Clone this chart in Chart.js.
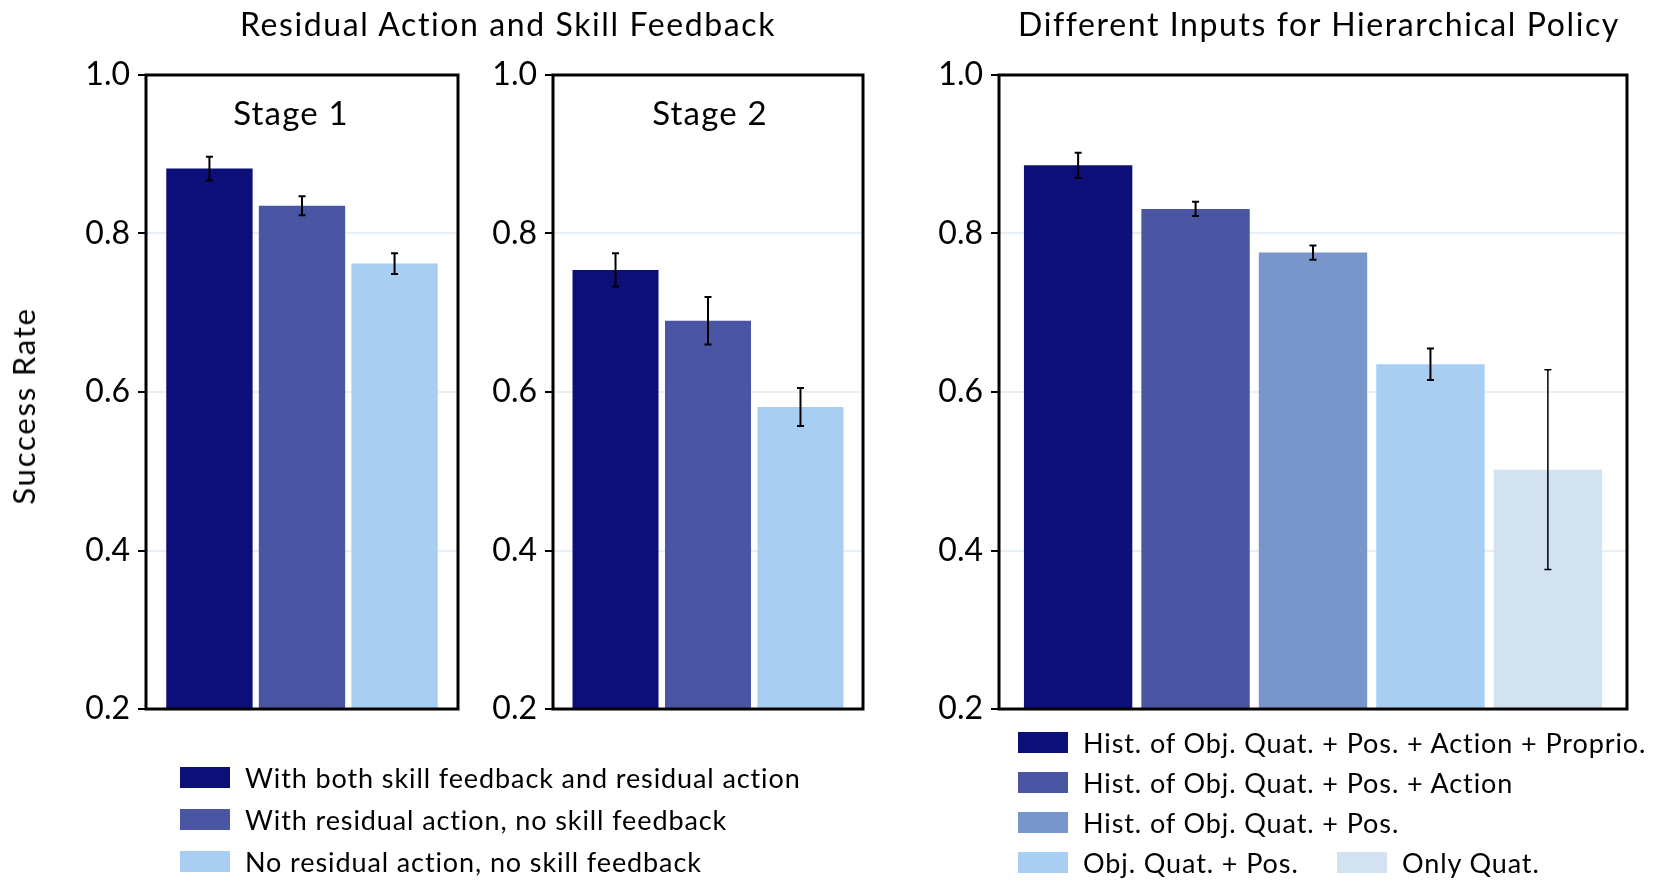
<!DOCTYPE html>
<html>
<head>
<meta charset="utf-8">
<script src="https://cdn.jsdelivr.net/npm/chart.js@4.4.1/dist/chart.umd.min.js"></script>
<style>
    body { margin: 0; background: #fff; font-family: Lato, 'Noto Sans', sans-serif; color: #000; }
    #page { position: relative; width: 1661px; height: 881px; overflow: hidden; }
    .box { position: absolute; top: 0; height: 881px; }
    .txt { position: absolute; white-space: nowrap; transform: translate(-50%, -50%); }
    .title { font-size: 32px; letter-spacing: 1.6px; }
    .stage { font-size: 33px; letter-spacing: 1.2px; }
    .ylab { font-size: 31px; letter-spacing: 1.8px; transform: translate(-50%, -50%) rotate(-90deg); }
    .legend { position: absolute; font-size: 27px; letter-spacing: 0.9px; }
    .legend .row { position: absolute; white-space: nowrap; display: flex; align-items: center; }
    .legend .sw { display: inline-block; width: 50px; height: 21px; margin-right: 15px; }
</style>
</head>
<body>
<div id="page">
    <div class="box" style="left:0; width:470px;"><canvas id="stage1"></canvas></div>
    <div class="box" style="left:470px; width:405px;"><canvas id="stage2"></canvas></div>
    <div class="box" style="left:900px; width:761px;"><canvas id="inputs"></canvas></div>

    <div class="txt title" style="left:508px; top:23px;">Residual Action and Skill Feedback</div>
    <div class="txt title" style="left:1319px; top:23px;">Different Inputs for Hierarchical Policy</div>
    <div class="txt stage" style="left:291px; top:112px;">Stage 1</div>
    <div class="txt stage" style="left:710px; top:112px;">Stage 2</div>
    <div class="txt ylab" style="left:23px; top:406px;">Success Rate</div>

    <div class="legend" id="legendA"></div>
    <div class="legend" id="legendB"></div>
</div>
<script>
const ablationLabels = [
    'With both skill feedback and residual action',
    'With residual action, no skill feedback',
    'No residual action, no skill feedback'
];
const ablationColors = ['#0c0f78', '#4a56a3', '#a8cef2'];
const stage1Values = [0.882, 0.835, 0.762];
const stage1Errors = [0.015, 0.012, 0.013];
const stage2Values = [0.754, 0.690, 0.581];
const stage2Errors = [0.021, 0.030, 0.024];

const inputLabels = [
    'Hist. of Obj. Quat. + Pos. + Action + Proprio.',
    'Hist. of Obj. Quat. + Pos. + Action',
    'Hist. of Obj. Quat. + Pos.',
    'Obj. Quat. + Pos.',
    'Only Quat.'
];
const inputColors = ['#0c0f78', '#4a56a3', '#7896c9', '#a8cef2', '#d2e2f0'];
const inputValues = [0.886, 0.831, 0.776, 0.635, 0.502];
const inputErrors = [0.016, 0.009, 0.009, 0.020, 0.126];

const yMin = 0.2;
const yMax = 1.0;
const yStep = 0.2;

// error bars drawn from each bar's x and the y scale
const errorBars = {
    id: 'errorBars',
    afterDatasetsDraw(chart) {
        const ctx = chart.ctx;
        const y = chart.scales.y;
        ctx.save();
        ctx.strokeStyle = '#000';
        chart.data.datasets.forEach((ds, i) => {
            const bar = chart.getDatasetMeta(i).data[0];
            const v = ds.data[0];
            const e = ds.err;
            const top = y.getPixelForValue(v + e);
            const bot = y.getPixelForValue(v - e);
            ctx.lineWidth = e > 0.05 ? 1.5 : 2;
            ctx.beginPath();
            ctx.moveTo(bar.x, top); ctx.lineTo(bar.x, bot);
            ctx.moveTo(bar.x - 3.5, top); ctx.lineTo(bar.x + 3.5, top);
            ctx.moveTo(bar.x - 3.5, bot); ctx.lineTo(bar.x + 3.5, bot);
            ctx.stroke();
        });
        ctx.restore();
    }
};

const frame = {
    id: 'frame',
    afterDraw(chart) {
        const a = chart.chartArea;
        const ctx = chart.ctx;
        ctx.save();
        ctx.strokeStyle = '#000';
        ctx.lineWidth = 3;
        ctx.strokeRect(a.left, a.top, a.right - a.left, a.bottom - a.top);
        ctx.restore();
    }
};

function makeChart(id, labels, values, errors, colors, axisWidth, padRight, catPct, barPct) {
    const ctx = document.getElementById(id).getContext('2d');
    return new Chart(ctx, {
        type: 'bar',
        data: {
            labels: [''],
            datasets: labels.map((l, i) => ({
                label: l,
                data: [values[i]],
                err: errors[i],
                backgroundColor: colors[i],
                borderWidth: 0,
                categoryPercentage: catPct,
                barPercentage: barPct
            }))
        },
        options: {
            responsive: true,
            maintainAspectRatio: false,
            animation: false,
            layout: { padding: { left: 0, right: padRight, top: 75, bottom: 172 } },
            plugins: { legend: { display: false }, tooltip: { enabled: false } },
            scales: {
                x: { display: false },
                y: {
                    min: yMin,
                    max: yMax,
                    border: { display: false },
                    afterFit(scale) { scale.width = axisWidth; },
                    grid: {
                        color: '#e7eff8',
                        lineWidth: 2,
                        tickColor: '#000',
                        tickLength: 8,
                        tickWidth: 2
                    },
                    ticks: {
                        stepSize: yStep,
                        padding: 8,
                        color: '#000',
                        font: { family: 'Lato', size: 32 },
                        callback: v => v.toFixed(1)
                    }
                }
            }
        },
        plugins: [errorBars, frame]
    });
}

makeChart('stage1', ablationLabels, stage1Values, stage1Errors, ablationColors, 146, 12, 0.89, 0.933);
makeChart('stage2', ablationLabels, stage2Values, stage2Errors, ablationColors, 83, 12, 0.895, 0.93);
makeChart('inputs', inputLabels, inputValues, inputErrors, inputColors, 99, 34, 0.935, 0.923);

function legendRow(parent, label, color, x, y) {
    const row = document.createElement('div');
    row.className = 'row';
    row.style.left = x + 'px';
    row.style.top = (y - 17) + 'px';
    row.style.height = '34px';
    row.innerHTML = `<span class="sw" style="background:${color}"></span><span>${label}</span>`;
    parent.appendChild(row);
}

const legA = document.getElementById('legendA');
const legAy = [777, 819, 861];
ablationLabels.forEach((l, i) => legendRow(legA, l, ablationColors[i], 180, legAy[i]));

const legB = document.getElementById('legendB');
const legBpos = [[1018, 742], [1018, 782], [1018, 822], [1018, 862], [1337, 862]];
inputLabels.forEach((l, i) => legendRow(legB, l, inputColors[i], legBpos[i][0], legBpos[i][1]));
</script>
</body>
</html>
